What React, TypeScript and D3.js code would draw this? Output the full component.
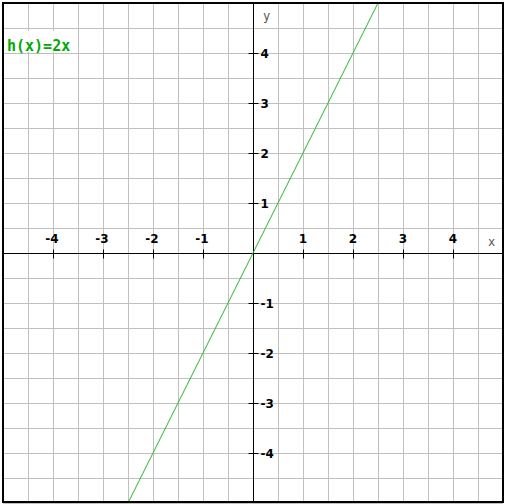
import React, { useEffect, useRef } from "react";
import * as d3 from "d3";

const xTicks = [-4, -3, -2, -1, 1, 2, 3, 4];
const yTicks = [-4, -3, -2, -1, 1, 2, 3, 4];
const domainX: [number, number] = [-5, 5];
const domainY: [number, number] = [-5, 5];
const slope = 2;
const linePoints = [-2.5, 0, 2.5];
const fnLabel = "h(x)=2x";

const App: React.FC = () => {
  const svgRef = useRef<SVGSVGElement | null>(null);

  const width = 505;
  const height = 504;

  useEffect(() => {
    document.body.style.margin = "0";
    const svg = d3.select(svgRef.current).attr("width", width).attr("height", height);
    svg.selectAll("*").remove();

    const x = d3.scaleLinear().domain(domainX).range([3, 503]);
    const y = d3.scaleLinear().domain(domainY).range([503, 3]);

    svg.append("rect").attr("width", width).attr("height", height).attr("fill", "white");

    // grid every half unit
    const grid = d3.range(-5, 5.01, 0.5);
    svg
      .append("g")
      .selectAll("line")
      .data(grid)
      .enter()
      .append("line")
      .attr("x1", (d) => Math.round(x(d)) + 0.5)
      .attr("x2", (d) => Math.round(x(d)) + 0.5)
      .attr("y1", 3)
      .attr("y2", 503)
      .attr("stroke", "#c0c0c0");
    svg
      .append("g")
      .selectAll("line")
      .data(grid)
      .enter()
      .append("line")
      .attr("y1", (d) => Math.round(y(d)) + 0.5)
      .attr("y2", (d) => Math.round(y(d)) + 0.5)
      .attr("x1", 3)
      .attr("x2", 503)
      .attr("stroke", "#c0c0c0");

    // label backdrop
    svg.append("rect").attr("x", 6).attr("y", 31).attr("width", 66).attr("height", 21).attr("fill", "white");

    // axes
    const x0 = Math.round(x(0)) + 0.5;
    const y0 = Math.round(y(0)) + 0.5;
    svg.append("line").attr("x1", 3).attr("x2", 503).attr("y1", y0).attr("y2", y0).attr("stroke", "black");
    svg.append("line").attr("y1", 3).attr("y2", 503).attr("x1", x0).attr("x2", x0).attr("stroke", "black");

    const xt = svg.append("g").selectAll("g").data(xTicks).enter().append("g");
    xt.append("line")
      .attr("x1", (d) => Math.round(x(d)) + 0.5)
      .attr("x2", (d) => Math.round(x(d)) + 0.5)
      .attr("y1", y0 - 4)
      .attr("y2", y0 + 5)
      .attr("stroke", "black");
    xt.append("text")
      .attr("x", (d) => x(d) + (d < 0 ? -1 : 0))
      .attr("y", y0 - 11)
      .attr("text-anchor", "middle")
      .attr("font-family", "DejaVu Sans")
      .attr("font-weight", "bold")
      .attr("font-size", "12px")
      .attr("fill", "black")
      .text((d) => String(d));

    const yt = svg.append("g").selectAll("g").data(yTicks).enter().append("g");
    yt.append("line")
      .attr("y1", (d) => Math.round(y(d)) + 0.5)
      .attr("y2", (d) => Math.round(y(d)) + 0.5)
      .attr("x1", x0 - 5)
      .attr("x2", x0 + 5)
      .attr("stroke", "black");
    yt.append("text")
      .attr("x", x0 + 7)
      .attr("y", (d) => y(d) + 5)
      .attr("font-family", "DejaVu Sans")
      .attr("font-weight", "bold")
      .attr("font-size", "12px")
      .attr("fill", "black")
      .text((d) => String(d));

    svg.append("text").attr("x", 488).attr("y", 246).attr("font-family", "DejaVu Sans Mono")
      .attr("font-size", "12px").attr("fill", "#555").text("x");
    svg.append("text").attr("x", 263).attr("y", 20).attr("font-family", "DejaVu Sans Mono")
      .attr("font-size", "12px").attr("fill", "#555").text("y");

    // function line
    const line = d3
      .line<number>()
      .x((d) => x(d))
      .y((d) => y(slope * d));
    svg.append("path").datum(linePoints).attr("d", line).attr("fill", "none")
      .attr("stroke", "#22bb22").attr("stroke-width", 1);

    svg.append("text").attr("x", 7).attr("y", 51).attr("font-family", "DejaVu Sans Mono")
      .attr("font-size", "15px").attr("font-weight", "bold").attr("fill", "#00aa00").text(fnLabel);

    // border
    svg.append("rect").attr("x", 3).attr("y", 3).attr("width", 500).attr("height", 499)
      .attr("fill", "none").attr("stroke", "black").attr("stroke-width", 2);
  }, []);

  return (
    <div>
      <svg ref={svgRef} style={{ display: "block" }}></svg>
    </div>
  );
};

export default App;
